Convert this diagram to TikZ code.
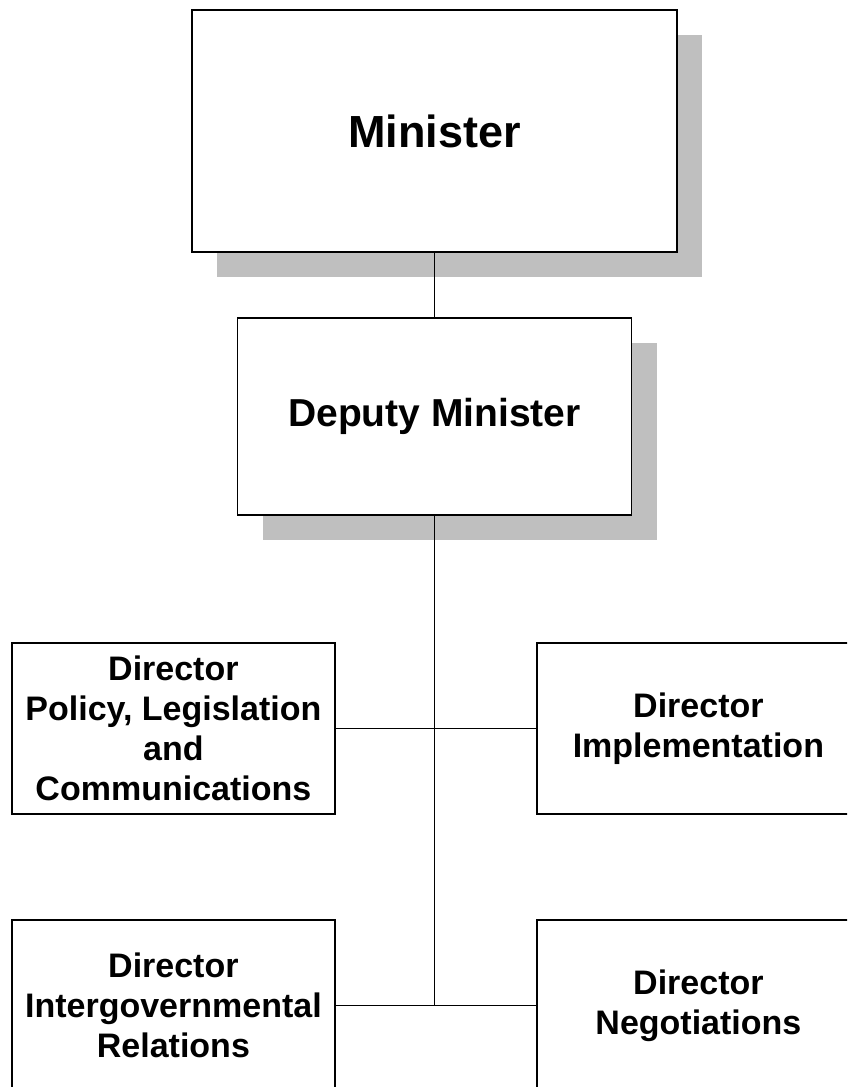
\documentclass[tikz,border=0pt]{standalone}
\usepackage{fontspec}
\setmainfont{Liberation Sans}
\usetikzlibrary{positioning, shadows}

\begin{document}
\begin{tikzpicture}[x=1pt, y=1pt, node distance=64pt]

\definecolor{shadowcolor}{rgb}{0.75, 0.75, 0.75}

\tikzstyle{boss} = [rectangle, draw=black, fill=white, line width=1.8pt, general shadow={fill=shadowcolor, shadow xshift=25pt, shadow yshift=-25pt}]
\tikzstyle{director} = [rectangle, draw=black, fill=white, line width=1.8pt, minimum width=323pt, minimum height=171pt, anchor=north west, align=center, font=\fontsize{34}{40}\selectfont\bfseries]
\tikzstyle{link} = [-, line width=1pt, draw=black]

\fill[white] (0,0) rectangle (847,-1087);
\clip (0,0) rectangle (847,-1087);

\node[boss, minimum width=485pt, minimum height=242pt, font=\fontsize{45}{54}\selectfont\bfseries] (minister) at (434.5,-131) {Minister};
\node[boss, below=64pt of minister, minimum width=394pt, minimum height=197pt, font=\fontsize{39}{46}\selectfont\bfseries] (deputy) {Deputy Minister};

\node[director] (policy) at (11,-642) {Director\\Policy, Legislation\\and\\Communications};
\node[director] (implement) at (536,-642) {Director\\Implementation};
\node[director] (intergov) at (11,-919) {Director\\Intergovernmental\\Relations};
\node[director] (negotiate) at (536,-919) {Director\\Negotiations};

\coordinate (hub) at (deputy.south |- intergov.east);

\draw[link] (minister) -- (deputy);
\draw[link] (deputy.south) -- (hub);
\draw[link] (policy.east) -- (implement.west);
\draw[link] (intergov.east) -- (negotiate.west);

\end{tikzpicture}
\end{document}
